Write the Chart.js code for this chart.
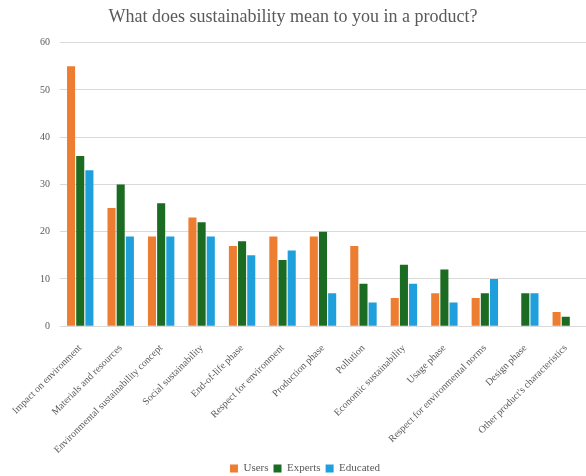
<!DOCTYPE html>
<html>
<head>
<meta charset="utf-8">
<script src="https://cdn.jsdelivr.net/npm/chart.js@4/dist/chart.umd.min.js"></script>
<style>
  html, body { margin: 0; padding: 0; background: #fff; }
  #wrap { width: 586px; height: 476px; }
</style>
</head>
<body>
<div id="wrap"><canvas id="chart"></canvas></div>
<script>
const categories = [
  'Impact on environment', 'Materials and resources', 'Environmental sustainability concept',
  'Social sustainability', 'End-of-life phase', 'Respect for environment', 'Production phase',
  'Pollution', 'Economic sustainability', 'Usage phase', 'Respect for environmental norms',
  'Design phase', "Other product's characteristics"
];
const users    = [55, 25, 19, 23, 17, 19, 19, 17, 6, 7, 6, null, 3];
const experts  = [36, 30, 26, 22, 18, 14, 20, 9, 13, 12, 7, 7, 2];
const educated = [33, 19, 19, 19, 15, 16, 7, 5, 9, 5, 10, 7, null];
const yTicks = [0, 10, 20, 30, 40, 50, 60];

const serif = "'Liberation Serif', 'DejaVu Serif', serif";
const grey = '#595959';

// move the legend: a bit right (it sits under the plot area in the original) and up
const legendShift = {
  id: 'legendShift',
  afterLayout(chart) {
    const lg = chart.legend;
    lg.left += 12; lg.right += 12;
    lg.top -= 6; lg.bottom -= 6;
  }
};

new Chart(document.getElementById('chart'), {
  type: 'bar',
  data: {
    labels: categories,
    datasets: [
      { label: 'Users', data: users, backgroundColor: '#ed7d31' },
      { label: 'Experts', data: experts, backgroundColor: '#1c6b22' },
      { label: 'Educated', data: educated, backgroundColor: '#1fa0dc' }
    ]
  },
  plugins: [legendShift],
  options: {
    responsive: true,
    maintainAspectRatio: false,
    animation: false,
    layout: { padding: { left: 0, right: 0, top: 4, bottom: -14 } },
    datasets: { bar: { categoryPercentage: 0.68, barPercentage: 0.88 } },
    plugins: {
      title: {
        display: true,
        text: 'What does sustainability mean to you in a product?',
        color: grey,
        font: { family: serif, size: 18, weight: 'normal' },
        padding: { top: 2, bottom: 15 }
      },
      legend: {
        position: 'bottom',
        labels: {
          color: grey,
          font: { family: serif, size: 11 },
          boxWidth: 8, boxHeight: 8, padding: 5
        }
      },
      tooltip: { enabled: false }
    },
    scales: {
      x: {
        grid: { display: false },
        border: { display: false },
        ticks: {
          color: grey, font: { family: serif, size: 10 },
          minRotation: 45, maxRotation: 45, autoSkip: false, padding: 8
        }
      },
      y: {
        min: yTicks[0], max: yTicks[yTicks.length - 1],
        afterFit: s => { s.width = 60; },
        afterBuildTicks: s => { s.ticks = yTicks.map(v => ({ value: v })); },
        grid: { color: '#d9d9d9', drawTicks: false },
        border: { display: false },
        ticks: { color: grey, font: { family: serif, size: 10 }, padding: 10 }
      }
    }
  }
});
</script>
</body>
</html>
